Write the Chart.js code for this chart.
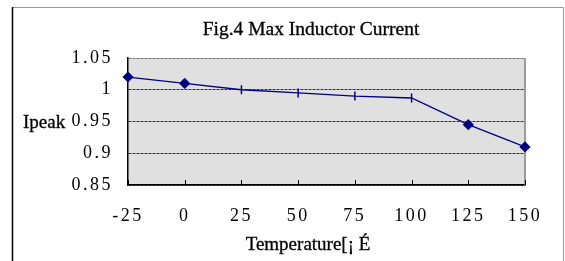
<!DOCTYPE html>
<html>
<head>
<meta charset="utf-8">
<script src="https://cdn.jsdelivr.net/npm/chart.js@4"></script>
<style>
html, body { margin: 0; padding: 0; background: #fff; }
</style>
</head>
<body>
<canvas id="chart" width="565" height="261"></canvas>
<script>
// data
var temps = ['-25', '0', '25', '50', '75', '100', '125', '150'];
var ipeak = [1.02, 1.01, 1.0, 0.995, 0.99, 0.987, 0.945, 0.91];
var markerStyles = ['rectRot', 'rectRot', 'line', 'line', 'line', 'line', 'rectRot', 'rectRot'];
var markerTurn = [0, 0, 90, 90, 90, 90, 0, 0];
var yTicks = [0.85, 0.9, 0.95, 1, 1.05];
var chartTitle = 'Fig.4 Max Inductor Current';
var xTitle = 'Temperature[¡ É';
var yTitle = 'Ipeak';

var serif = '"Liberation Serif", "Times New Roman", serif';

// frame, plot background, inner ticks and texts
var framePlugin = {
	id: 'frame',
	beforeDraw: function(chart){
		var ctx = chart.ctx;
		var a = chart.chartArea;
		ctx.save();
		ctx.fillStyle = '#fff';
		ctx.fillRect(0, 0, chart.width, chart.height);
		// outer box
		ctx.lineWidth = 1;
		ctx.strokeStyle = '#999';
		ctx.beginPath();
		ctx.moveTo(12, 7.5);
		ctx.lineTo(563.5, 7.5);
		ctx.lineTo(563.5, 261);
		ctx.stroke();
		ctx.strokeStyle = '#000';
		ctx.lineWidth = 1.5;
		ctx.beginPath();
		ctx.moveTo(12.5, 7);
		ctx.lineTo(12.5, 261);
		ctx.stroke();
		// plot area
		ctx.fillStyle = '#e0e0e0';
		ctx.fillRect(a.left, a.top, a.right - a.left, a.bottom - a.top);
		ctx.restore();
		ctx.letterSpacing = '2.5px';
	},
	beforeDatasetsDraw: function(chart){
		var ctx = chart.ctx;
		var a = chart.chartArea;
		var x = chart.scales.x;
		ctx.save();
		ctx.strokeStyle = '#808080';
		ctx.lineWidth = 1.5;
		ctx.beginPath();
		ctx.moveTo(a.right, a.top);
		ctx.lineTo(a.right, a.bottom);
		ctx.stroke();
		ctx.strokeStyle = '#000';
		ctx.lineWidth = 1;
		temps.forEach((t, i) => {
			var px = Math.round(x.getPixelForTick(i)) + 0.5;
			ctx.beginPath();
			ctx.moveTo(px, a.bottom - 5);
			ctx.lineTo(px, a.bottom);
			ctx.stroke();
		});
		ctx.restore();
	},
	afterDraw: function(chart){
		var ctx = chart.ctx;
		ctx.save();
		ctx.letterSpacing = '0px';
		ctx.fillStyle = '#000';
		ctx.strokeStyle = '#000';
		ctx.lineWidth = 0.3;
		ctx.textBaseline = 'middle';
		ctx.font = '19.5px ' + serif;
		ctx.textAlign = 'center';
		ctx.fillText(chartTitle, 311, 30);
		ctx.strokeText(chartTitle, 311, 30);
		ctx.font = '19px ' + serif;
		ctx.fillText(xTitle, 308, 245);
		ctx.strokeText(xTitle, 308, 245);
		ctx.textAlign = 'left';
		ctx.fillText(yTitle, 23, 123);
		ctx.strokeText(yTitle, 23, 123);
		ctx.restore();
	}
};

var chart = new Chart(document.getElementById('chart'), {
	type: 'line',
	data: {
		labels: temps,
		datasets: [{
			data: ipeak,
			borderColor: '#000080',
			backgroundColor: '#000080',
			borderWidth: 1.3,
			tension: 0,
			pointStyle: markerStyles,
			pointRotation: markerTurn,
			pointRadius: 4.5,
			pointBorderWidth: 1.5,
			pointBackgroundColor: '#000080',
			pointBorderColor: '#000080',
			clip: false,
		}]
	},
	options: {
		responsive: false,
		animation: false,
		devicePixelRatio: 1,
		layout: {
			padding: {left: 0, right: 40, top: 58, bottom: 0}
		},
		plugins: {
			legend: {display: false},
			title: {display: false},
			tooltip: {enabled: false}
		},
		scales: {
			x: {
				offset: false,
				grid: {display: false, drawTicks: false},
				border: {display: true, color: '#000', width: 1.5},
				ticks: {
					color: '#000',
					font: {family: serif, size: 18},
					padding: 20,
					autoSkip: false,
					maxRotation: 0
				},
				afterFit: function(scale){ scale.height = 76; }
			},
			y: {
				min: 0.85,
				max: 1.05,
				afterBuildTicks: function(scale){
					scale.ticks = yTicks.map(v => ({value: v}));
				},
				grid: {
					drawTicks: false,
					color: (c) => c.tick && c.tick.value === 1.05 ? '#777' : '#333',
					lineWidth: 1
				},
				border: {display: true, color: '#000', width: 1.5, dash: [3, 1]},
				ticks: {
					color: '#000',
					font: {family: serif, size: 18},
					padding: 15,
					callback: (v) => String(v)
				},
				afterFit: function(scale){ scale.width = 128; }
			}
		}
	},
	plugins: [framePlugin]
});
</script>
</body>
</html>
